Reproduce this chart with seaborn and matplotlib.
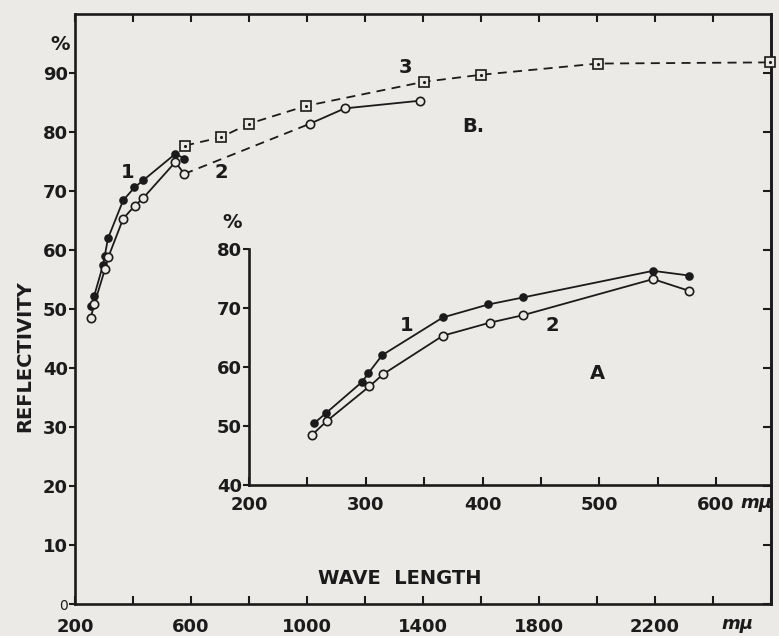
import matplotlib
matplotlib.use("Agg")
import matplotlib.pyplot as plt
import seaborn as sns

# readings taken off the figure (wave length in m-mu, reflectivity in %)
c1_wl = [256, 266, 297, 302, 314, 366, 405, 435, 546, 577]
c1_refl = [50.5, 52.2, 57.5, 58.9, 62.0, 68.4, 70.6, 71.8, 76.3, 75.5]
c2_wl = [254, 267, 303, 315, 366, 406, 435, 546, 577]
c2_refl = [48.5, 50.9, 56.7, 58.8, 65.3, 67.5, 68.8, 74.9, 72.9]
# B. = curve 2 carried on into the infra-red
b_wl = [1010, 1130, 1389]
b_refl = [81.4, 84.0, 85.3]
# curve 3 (squares, dashed)
c3_wl = [580, 703, 800, 995, 1402, 1600, 2003, 2596]
c3_refl = [77.7, 79.1, 81.4, 84.4, 88.5, 89.7, 91.6, 91.8]

main_xticks = list(range(200, 2601, 200))
main_xlabels = [str(v) if (v - 200) % 400 == 0 and v < 2600 else "" for v in main_xticks]
main_yticks = list(range(0, 91, 10))
inset_xticks = list(range(200, 601, 50))
inset_xlabels = [str(v) if v % 100 == 0 else "" for v in inset_xticks]
inset_yticks = [40, 50, 60, 70, 80]

paper = "#ebeae6"
ink = "#1b1b1b"

sns.set_theme(style="ticks")
plt.rcParams["font.family"] = ["DejaVu Sans"]
plt.rcParams["font.weight"] = "bold"
plt.rcParams["axes.linewidth"] = 1.9
plt.rcParams["axes.edgecolor"] = ink
plt.rcParams["xtick.color"] = ink
plt.rcParams["ytick.color"] = ink

fig = plt.figure(figsize=(7.79, 6.36), dpi=100, facecolor=paper)
ax = fig.add_axes([75 / 779, 32 / 636, 696 / 779, 590 / 636])
ax.set_facecolor(paper)

lw = 1.3
solid = dict(ax=ax, color=ink, lw=lw, sort=False, estimator=None)

# main plot
sns.lineplot(x=c1_wl, y=c1_refl, marker="o", ms=5, mfc=ink, mec=ink, mew=1.2, zorder=3, **solid)
sns.lineplot(x=c2_wl, y=c2_refl, marker="o", ms=6, mfc=paper, mec=ink, mew=1.2, zorder=3, **solid)
sns.lineplot(x=[c2_wl[-1], b_wl[0]], y=[c2_refl[-1], b_refl[0]], ax=ax, color=ink, lw=lw,
             linestyle=(0, (5, 3.5)), sort=False, estimator=None, zorder=2)
sns.lineplot(x=b_wl, y=b_refl, marker="o", ms=6, mfc=paper, mec=ink, mew=1.2, zorder=3, **solid)
sns.lineplot(x=c3_wl, y=c3_refl, ax=ax, color=ink, lw=lw, linestyle=(0, (5, 3.5)),
             marker="s", ms=7, mfc=paper, mec=ink, mew=1.2, sort=False, estimator=None,
             zorder=3, clip_on=False)
sns.scatterplot(x=c3_wl, y=c3_refl, ax=ax, color=ink, s=5, linewidth=0, zorder=4, clip_on=False)

ax.set_xlim(200, 2600)
ax.set_ylim(0, 100)
ax.set_xticks(main_xticks)
ax.set_xticklabels(main_xlabels, fontsize=13, fontweight="bold")
ax.set_yticks(main_yticks)
ax.set_yticklabels([str(v) for v in main_yticks], fontsize=13, fontweight="bold")
# the zero at the corner is lettered smaller and lighter in the original
zero = ax.get_yticklabels()[0]
zero.set_fontsize(10)
zero.set_fontweight("normal")
ax.tick_params(axis="x", direction="in", top=True, length=6, width=1.5, pad=10)
ax.tick_params(axis="y", direction="out", length=4, width=1.5, pad=1)
right = ax.secondary_yaxis("right")
right.set_yticks(main_yticks)
right.tick_params(direction="in", length=6, width=1.5, labelright=False)
right.spines["right"].set_linewidth(1.9)
ax.set_xlabel("")
ax.set_ylabel("")
for s in ax.spines.values():
    s.set_linewidth(1.9)

ax.text(382, 73.1, "1", fontsize=14, fontweight="bold", ha="center", va="center", color=ink)
ax.text(703, 73.1, "2", fontsize=14, fontweight="bold", ha="center", va="center", color=ink)
ax.text(1340, 91.0, "3", fontsize=14, fontweight="bold", ha="center", va="center", color=ink)
ax.text(1575, 81.0, "B.", fontsize=14, fontweight="bold", ha="center", va="center", color=ink)

fig.text(25 / 779, 1 - 356 / 636, "REFLECTIVITY", rotation=90, fontsize=14,
         fontweight="bold", ha="center", va="center", color=ink)
fig.text(60 / 779, 1 - 45 / 636, "%", fontsize=14, fontweight="bold", ha="center",
         va="center", color=ink)
fig.text(400 / 779, 1 - 578 / 636, "WAVE  LENGTH", fontsize=14, fontweight="bold",
         ha="center", va="center", color=ink)
fig.text(737 / 779, 1 - 624 / 636, "mμ", fontsize=13, fontweight="bold", style="italic",
         ha="center", va="center", color=ink)

# inset A (ultra-violet and visible range)
ins = fig.add_axes([249 / 779, (636 - 485) / 636, (771 - 249) / 779, (485 - 249) / 636])
ins.set_facecolor("none")
sns.lineplot(x=c1_wl, y=c1_refl, ax=ins, color=ink, lw=lw, marker="o", ms=5, mfc=ink,
             mec=ink, mew=1.2, sort=False, estimator=None, zorder=3)
sns.lineplot(x=c2_wl, y=c2_refl, ax=ins, color=ink, lw=lw, marker="o", ms=6, mfc=paper,
             mec=ink, mew=1.2, sort=False, estimator=None, zorder=3)
ins.set_xlim(200, 647)
ins.set_ylim(40, 80)
ins.set_xticks(inset_xticks)
ins.set_xticklabels(inset_xlabels, fontsize=13, fontweight="bold")
ins.set_yticks(inset_yticks)
ins.set_yticklabels([str(v) for v in inset_yticks], fontsize=13, fontweight="bold")
ins.tick_params(axis="x", direction="in", length=6, width=1.5, pad=8)
ins.tick_params(axis="y", direction="out", length=4, width=1.5, pad=1)
ins.spines["top"].set_visible(False)
ins.spines["right"].set_visible(False)
ins.spines["left"].set_linewidth(1.9)
ins.spines["bottom"].set_linewidth(1.9)
ins.set_xlabel("")
ins.set_ylabel("")

ins.text(335, 67.1, "1", fontsize=14, fontweight="bold", ha="center", va="center", color=ink)
ins.text(460, 67.1, "2", fontsize=14, fontweight="bold", ha="center", va="center", color=ink)
ins.text(498, 58.9, "A", fontsize=14, fontweight="bold", ha="center", va="center", color=ink)
fig.text(232 / 779, 1 - 222 / 636, "%", fontsize=14, fontweight="bold", ha="center",
         va="center", color=ink)
fig.text(756 / 779, 1 - 503 / 636, "mμ", fontsize=13, fontweight="bold", style="italic",
         ha="center", va="center", color=ink)

fig.savefig("out.png", dpi=100, facecolor=paper)
